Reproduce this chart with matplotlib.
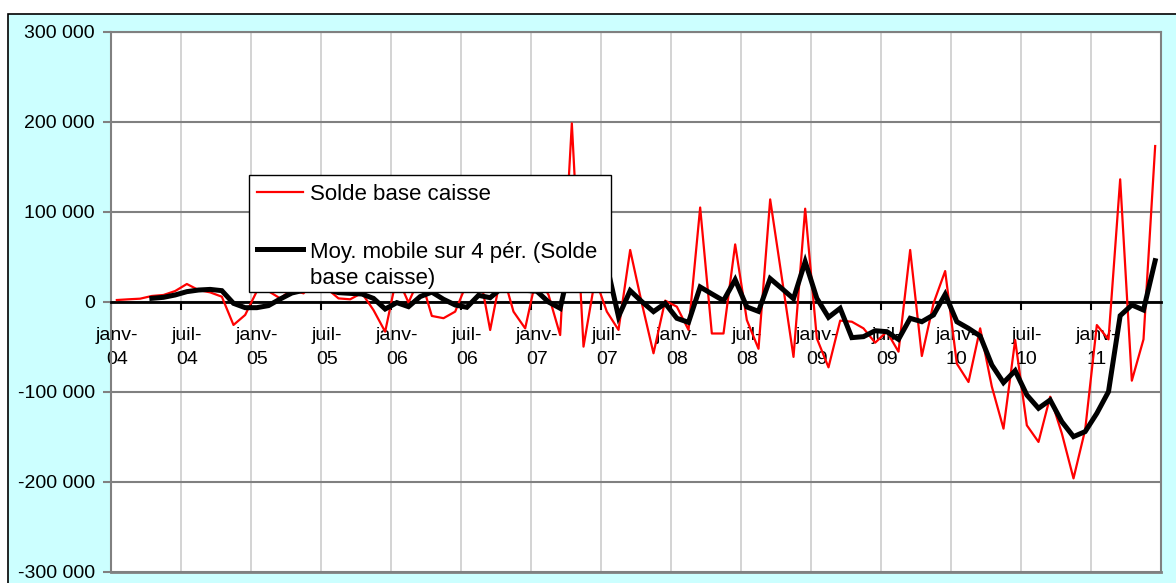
import numpy as np
import matplotlib
matplotlib.use("Agg")
import matplotlib.pyplot as plt
from matplotlib.patches import Rectangle
from matplotlib.lines import Line2D
from matplotlib.ticker import FuncFormatter

plt.rcParams['font.family'] = ['Liberation Sans', 'DejaVu Sans']

# monthly values, janv-04 .. juin-11
solde = [2200, 3000, 3700, 6700, 7800, 12200, 20000, 13300, 10700, 5900,
         -25500, -14400, 12000, 12000, 4000, 14000, 9600, 25000, 15000, 4000,
         3000, 10000, -9000, -33000, 29000, -700, 28500, -15500, -18000, -10700,
         21000, 38000, -31100, 35000, -10700, -29300, 30000, 8000, -36700, 198500,
         -49600, 26100, -10700, -31000, 57800, -1500, -57000, 1500, -5200, -31000,
         105000, -35000, -35000, 64000, -20000, -52000, 114000, 27000, -61000, 103700,
         -40400, -72600, -20700, -21900, -29300, -45200, -33000, -55200, 57800, -60000,
         -1500, 34400, -68500, -88900, -29300, -94000, -140700, -42200, -137000, -155500,
         -105200, -146000, -196000, -142000, -25600, -41500, 136300, -87400, -41500, 173300]

moy_mobile = [np.nan, np.nan, np.nan, 4100, 5200, 7800, 11500, 13300, 14000, 12600,
              -1500, -6300, -6300, -4000, 3300, 10000, 13000, 15000, 14000, 10400,
              9600, 8900, 4000, -7800, -700, -5200, 6000, 11000, 3000, -3300,
              -5900, 7400, 4800, 15700, 14000, 13000, 12000, 0, -7000, 50000,
              30000, 34600, 41000, -16300, 12600, 400, -10700, -1500, -18100, -22600,
              16700, 9000, 1500, 24800, -5500, -10400, 26000, 15000, 3700, 44800,
              4100, -17000, -7000, -39600, -38500, -31900, -33000, -41500, -18100, -21900,
              -14400, 8500, -21900, -29300, -37800, -70000, -89600, -76300, -103300, -118100,
              -108900, -133000, -149600, -144000, -123700, -99600, -15200, -3300, -8900, 45900]

tick_labels = ['janv-\n04', 'juil-\n04', 'janv-\n05', 'juil-\n05', 'janv-\n06',
               'juil-\n06', 'janv-\n07', 'juil-\n07', 'janv-\n08', 'juil-\n08',
               'janv-\n09', 'juil-\n09', 'janv-\n10', 'juil-\n10', 'janv-\n11']

W, H = 1176, 583
fig = plt.figure(figsize=(W / 100, H / 100), dpi=100)
fig.patch.set_facecolor('white')

def fx(px):
    return px / W

def fy(py):
    return 1 - py / H

# cyan chart area with black border (top/left visible)
fig.add_artist(Rectangle((fx(8), -0.1), 1.2, fy(14) + 0.1, transform=fig.transFigure,
                         facecolor='#CCFFFF', edgecolor='black', linewidth=1.2, zorder=-1))

ax = fig.add_axes([fx(111), fy(572), fx(1161) - fx(111), fy(32) - fy(572)])
ax.set_facecolor('white')

x = np.arange(len(solde))
ax.plot(x, solde, color='#FF0000', linewidth=1.6, zorder=3)
ax.plot(x, moy_mobile, color='black', linewidth=3.6, zorder=4, solid_joinstyle='miter')

ax.set_xlim(-0.5, len(solde) - 0.5)
ax.set_ylim(-300000, 300000)
ax.set_axisbelow(True)

# y axis
ax.set_yticks(np.arange(-300000, 300001, 100000))
ax.yaxis.set_major_formatter(FuncFormatter(lambda v, p: f"{int(v):,}".replace(",", " ")))
ax.tick_params(axis='y', direction='out', length=6, width=1.5, color='#808080',
               labelsize=14, pad=5.5)
ax.yaxis.grid(True, color='#808080', linewidth=1.5)

# x axis on the zero line
ax.spines['bottom'].set_position(('data', 0))
ax.spines['bottom'].set_color('black')
ax.spines['bottom'].set_linewidth(2)
for s in ['left', 'right', 'top']:
    ax.spines[s].set_color('#808080')
    ax.spines[s].set_linewidth(1.5)
ax.axhline(-300000, color='#808080', linewidth=2, clip_on=False, zorder=1)

ax.set_xticks(np.arange(-0.5, len(solde), 6))
ax.set_xticklabels([])
ax.set_xticks(np.arange(0, len(solde), 6), minor=True)
ax.set_xticklabels(tick_labels, minor=True, linespacing=1.5)
ax.tick_params(axis='x', which='major', direction='out', length=6, width=1.5, color='black')
ax.tick_params(axis='x', which='minor', length=0, labelsize=14, pad=18)
ax.xaxis.grid(True, which='major', color='#D0D0D0', linewidth=1.3)

# legend box drawn in figure pixels
fig.add_artist(Rectangle((fx(249), fy(292)), fx(611) - fx(249), fy(175) - fy(292),
                         transform=fig.transFigure, facecolor='white',
                         edgecolor='black', linewidth=1, zorder=5))
fig.add_artist(Line2D([fx(257), fx(303)], [fy(192), fy(192)], transform=fig.transFigure,
                      color='#FF0000', linewidth=1.6, zorder=6))
fig.add_artist(Line2D([fx(257), fx(303)], [fy(249), fy(249)], transform=fig.transFigure,
                      color='black', linewidth=3.6, zorder=6))
fig.text(fx(310), fy(200), 'Solde base caisse', fontsize=16, va='baseline', zorder=7)
fig.text(fx(310), fy(258), 'Moy. mobile sur 4 pér. (Solde', fontsize=16, va='baseline', zorder=7)
fig.text(fx(310), fy(284), 'base caisse)', fontsize=16, va='baseline', zorder=7)

fig.savefig('out.png', dpi=100)
